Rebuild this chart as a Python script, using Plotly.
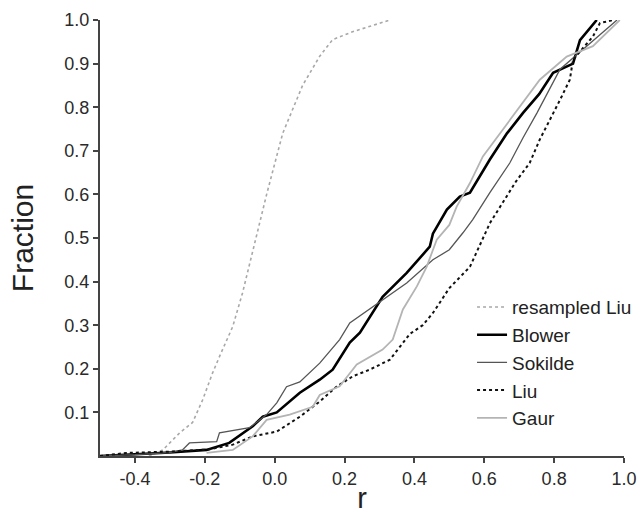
import plotly.graph_objects as go

# resampled Liu
rl_x = [-0.36, -0.32, -0.272, -0.235, -0.206, -0.178, -0.158, -0.12, -0.092, -0.063, -0.023, 0.023, 0.08, 0.129, 0.166, 0.223, 0.28, 0.33]
rl_y = [0.0, 0.014, 0.053, 0.077, 0.129, 0.19, 0.228, 0.297, 0.374, 0.47, 0.60, 0.74, 0.85, 0.917, 0.955, 0.973, 0.987, 1.0]

blower_x = [-0.5, -0.42, -0.30, -0.195, -0.13, -0.063, -0.034, 0.006, 0.072, 0.129, 0.166, 0.215, 0.244, 0.309, 0.378, 0.444, 0.453, 0.493, 0.53, 0.559, 0.616, 0.665, 0.711, 0.757, 0.797, 0.854, 0.874, 0.922]
blower_y = [0.0, 0.003, 0.008, 0.014, 0.03, 0.068, 0.09, 0.10, 0.145, 0.175, 0.198, 0.26, 0.283, 0.365, 0.42, 0.48, 0.51, 0.565, 0.595, 0.604, 0.68, 0.74, 0.787, 0.83, 0.879, 0.90, 0.954, 1.0]

sokilde_x = [-0.5, -0.40, -0.30, -0.264, -0.244, -0.166, -0.158, -0.072, -0.023, 0.006, 0.034, 0.072, 0.129, 0.186, 0.215, 0.309, 0.378, 0.453, 0.50, 0.539, 0.567, 0.616, 0.673, 0.711, 0.751, 0.817, 0.894, 0.98]
sokilde_y = [0.0, 0.003, 0.008, 0.014, 0.03, 0.033, 0.053, 0.065, 0.095, 0.122, 0.159, 0.17, 0.213, 0.267, 0.305, 0.358, 0.397, 0.45, 0.473, 0.512, 0.542, 0.604, 0.672, 0.73, 0.787, 0.887, 0.94, 1.0]

liu_x = [-0.5, -0.425, -0.30, -0.19, -0.12, -0.063, 0.006, 0.072, 0.129, 0.177, 0.224, 0.272, 0.33, 0.387, 0.424, 0.453, 0.50, 0.559, 0.616, 0.691, 0.73, 0.759, 0.817, 0.845, 0.854, 0.911, 0.931, 0.97]
liu_y = [0.0, 0.007, 0.01, 0.015, 0.026, 0.045, 0.056, 0.09, 0.125, 0.159, 0.183, 0.198, 0.221, 0.28, 0.30, 0.328, 0.385, 0.434, 0.534, 0.63, 0.672, 0.726, 0.817, 0.863, 0.909, 0.962, 0.993, 1.0]

gaur_x = [-0.195, -0.12, -0.063, -0.023, 0.043, 0.109, 0.129, 0.186, 0.235, 0.309, 0.338, 0.367, 0.407, 0.435, 0.464, 0.50, 0.521, 0.559, 0.596, 0.682, 0.759, 0.836, 0.911, 0.988]
gaur_y = [0.007, 0.014, 0.045, 0.083, 0.095, 0.113, 0.14, 0.16, 0.21, 0.244, 0.267, 0.336, 0.389, 0.434, 0.496, 0.53, 0.572, 0.626, 0.687, 0.78, 0.863, 0.916, 0.94, 1.0]

x_ticks = [-0.4, -0.2, 0.0, 0.2, 0.4, 0.6, 0.8, 1.0]
x_labels = ["-0.4", "-0.2", "0.0", "0.2", "0.4", "0.6", "0.8", "1.0"]
y_ticks = [0.1, 0.2, 0.3, 0.4, 0.5, 0.6, 0.7, 0.8, 0.9, 1.0]
y_labels = ["0.1", "0.2", "0.3", "0.4", "0.5", "0.6", "0.7", "0.8", "0.9", "1.0"]

FONT = "Arial, Liberation Sans, sans-serif"

fig = go.Figure()
fig.add_trace(go.Scatter(x=rl_x, y=rl_y, mode="lines", name="resampled Liu",
                         line=dict(color="#a8a8a8", width=1.6, dash="dot")))
fig.add_trace(go.Scatter(x=blower_x, y=blower_y, mode="lines", name="Blower",
                         line=dict(color="#000000", width=2.6)))
fig.add_trace(go.Scatter(x=sokilde_x, y=sokilde_y, mode="lines", name="Sokilde",
                         line=dict(color="#555555", width=1.3)))
fig.add_trace(go.Scatter(x=liu_x, y=liu_y, mode="lines", name="Liu",
                         line=dict(color="#111111", width=2.0, dash="dot")))
fig.add_trace(go.Scatter(x=gaur_x, y=gaur_y, mode="lines", name="Gaur",
                         line=dict(color="#b4b4b4", width=1.8)))

fig.update_layout(
    width=639, height=521,
    margin=dict(l=100, r=15, t=20, b=65, autoexpand=False),
    paper_bgcolor="white", plot_bgcolor="white",
    font=dict(family=FONT, color="#333333", size=18),
    showlegend=True,
    legend=dict(x=0.71, y=0.385, xanchor="left", yanchor="top",
                font=dict(family=FONT, size=19, color="#222222"),
                bgcolor="rgba(0,0,0,0)", itemwidth=30, tracegroupgap=0),
)
fig.update_xaxes(range=[-0.5, 1.0], tickvals=x_ticks, ticktext=x_labels,
                 showgrid=False, zeroline=False, showline=True, automargin=False,
                 linecolor="#444444", linewidth=2, ticks="outside",
                 ticklen=5, tickwidth=1.5, tickcolor="#444444",
                 tickfont=dict(size=18, color="#2a2a2a"),
                 title=dict(text="r", font=dict(size=29, color="#222222"), standoff=0))
fig.update_yaxes(range=[0, 1.0], tickvals=y_ticks, ticktext=y_labels,
                 showgrid=False, zeroline=False, showline=True, automargin=False,
                 linecolor="#444444", linewidth=2, ticks="outside",
                 ticklen=5, tickwidth=1.5, tickcolor="#444444",
                 tickfont=dict(size=18, color="#2a2a2a"),
                 title=dict(text="Fraction", font=dict(size=30, color="#222222"), standoff=22))

fig.write_html("out.html", config={"displayModeBar": False},
               post_script="document.body.style.margin='0';document.body.style.overflow='hidden';")
